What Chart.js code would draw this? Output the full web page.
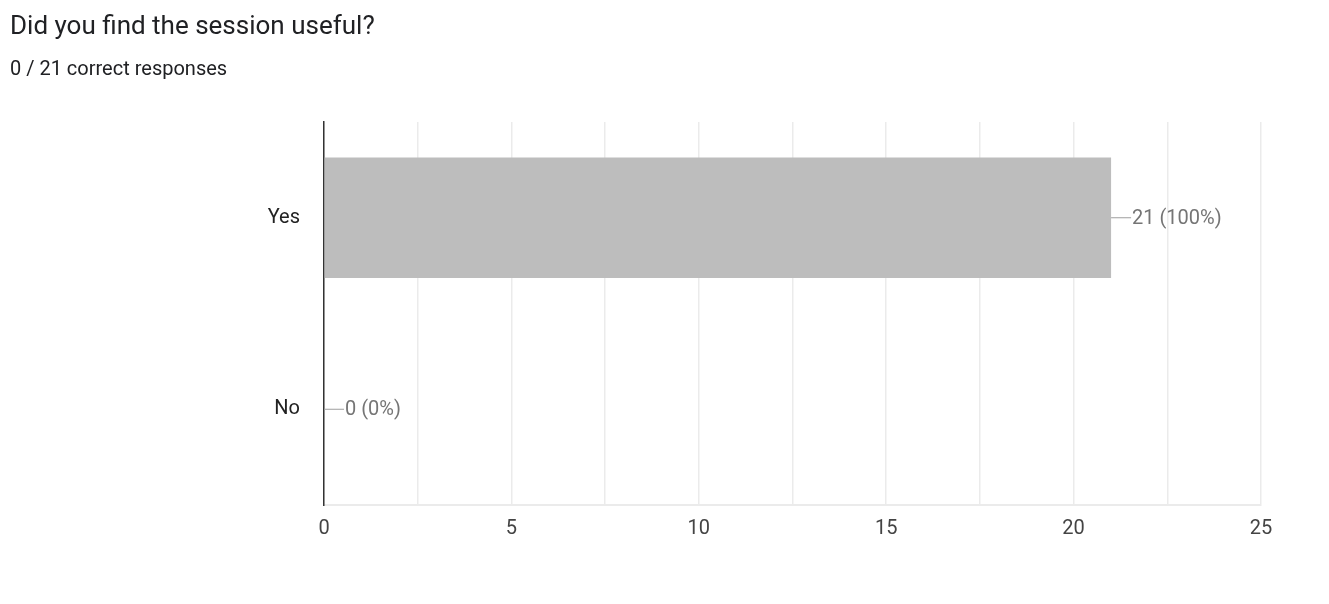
<!DOCTYPE html>
<html>
<head>
<meta charset="utf-8">
<script src="https://cdn.jsdelivr.net/npm/chart.js@4/dist/chart.umd.min.js"></script>
<style>
  html,body{margin:0;padding:0;background:#fff;width:1329px;height:604px;overflow:hidden;font-family:Roboto,Arial,sans-serif;}
  #title{position:absolute;left:10px;top:10px;font-size:26px;color:#202124;}
  #sub{position:absolute;left:10px;top:56px;font-size:20px;color:#202124;}
  #wrap{position:absolute;left:0;top:0;width:1329px;height:604px;}
</style>
</head>
<body>
<div id="wrap"><canvas id="c"></canvas></div>
<div id="title">Did you find the session useful?</div>
<div id="sub">0 / 21 correct responses</div>
<script>
const categories = ['Yes', 'No'];
const counts = [21, 0];
const labels = ['21 (100%)', '0 (0%)'];
const xTicks = [0, 5, 10, 15, 20, 25];

// value labels with a short leader line, drawn off the bar ends
const valueLabels = {
  id: 'valueLabels',
  afterDatasetsDraw(chart){
    const {ctx} = chart;
    const meta = chart.getDatasetMeta(0);
    ctx.save();
    ctx.font = '20px Roboto, Arial, sans-serif';
    ctx.fillStyle = '#757575';
    ctx.strokeStyle = '#9e9e9e';
    ctx.lineWidth = 1;
    ctx.textBaseline = 'middle';
    meta.data.forEach((bar, i) => {
      const x = bar.x, y = bar.y;
      ctx.beginPath(); ctx.moveTo(x, y); ctx.lineTo(x + 20, y); ctx.stroke();
      ctx.fillText(labels[i], x + 21, y + 1);
    });
    ctx.restore();
  }
};

new Chart(document.getElementById('c'), {
  type: 'bar',
  data: {
    labels: categories,
    datasets: [{data: counts, backgroundColor: '#bdbdbd', categoryPercentage: 0.63, barPercentage: 1}]
  },
  options: {
    indexAxis: 'y',
    responsive: true,
    maintainAspectRatio: false,
    animation: false,
    layout: {padding: {top: 122, right: 68, bottom: 49, left: 0}},
    plugins: {legend: {display: false}, tooltip: {enabled: false}},
    scales: {
      x: {
        min: 0, max: 25,
        afterFit(s){ s.height = 50; },
        afterBuildTicks(s){
          const t = [];
          for (let v = 0; v <= 25; v += 2.5) t.push({value: v});
          s.ticks = t;
        },
        ticks: {
          padding: 12, color: '#444',
          font: {size: 20, family: 'Roboto, Arial, sans-serif'},
          callback: v => xTicks.includes(v) ? String(v) : ''
        },
        grid: {color: '#ebebeb', drawTicks: false, lineWidth: 1.5},
        border: {color: '#ebebeb', width: 2}
      },
      y: {
        afterFit(s){ s.width = 324; },
        ticks: {padding: 24, color: '#222', font: {size: 20, family: 'Roboto, Arial, sans-serif'}},
        grid: {display: false, drawTicks: false},
        border: {color: '#333', width: 1.5}
      }
    }
  },
  plugins: [valueLabels]
});
</script>
</body>
</html>
